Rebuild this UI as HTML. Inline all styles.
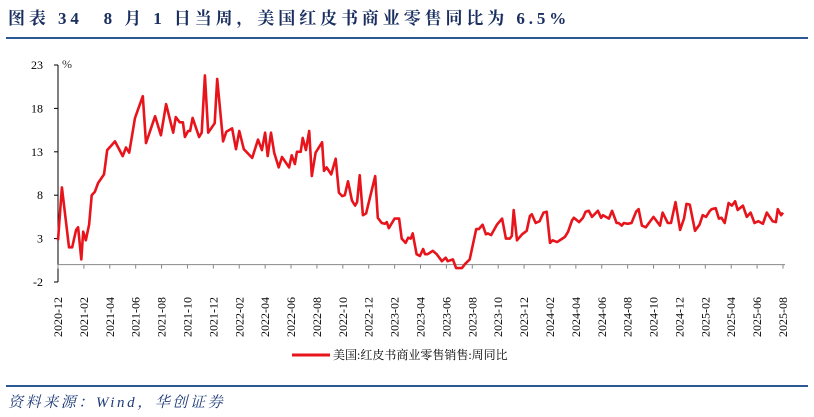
<!DOCTYPE html>
<html><head><meta charset="utf-8"><style>
body{margin:0;background:#fff;width:814px;height:417px;overflow:hidden;position:relative;font-family:"Liberation Serif","Noto Serif CJK SC",serif}
#title{position:absolute;left:8px;top:4px;font-size:17px;font-weight:bold;color:#1a2f60;letter-spacing:3.9px;white-space:nowrap}
#src{position:absolute;left:8px;top:391px;font-size:15px;font-style:italic;color:#1f3c78;letter-spacing:2.6px;white-space:nowrap}
.rule{position:absolute;left:6px;width:802px;height:2px;background:#2c5795}
</style></head><body>
<div id="title">图表 34　8 月 1 日当周，美国红皮书商业零售同比为 6.5%</div>
<div class="rule" style="top:37px"></div>
<div class="rule" style="top:385px"></div>
<div id="src">资料来源：Wind，华创证券</div>
<svg id="chart" width="814" height="417" style="position:absolute;left:0;top:0"></svg>
<script>
const months=[0,0.3,0.85,1.1,1.4,1.55,1.8,1.95,2.15,2.4,2.6,2.85,3.1,3.55,3.8,4.4,5.0,5.25,5.5,5.95,6.55,6.8,7.5,7.95,8.35,8.9,9.1,9.4,9.65,9.8,10.05,10.2,10.4,10.9,11.1,11.35,11.6,12.1,12.3,12.75,13.0,13.45,13.75,14.0,14.35,15.0,15.45,15.75,16.0,16.2,16.45,16.7,17.05,17.3,17.85,18.05,18.3,18.45,18.75,18.9,19.15,19.4,19.6,19.9,20.4,20.55,20.75,21.1,21.45,21.7,21.95,22.15,22.4,22.7,22.95,23.1,23.3,23.55,23.8,24.5,24.7,25.0,25.25,25.4,25.55,26.0,26.35,26.55,26.85,27.05,27.25,27.4,27.7,27.95,28.2,28.35,28.55,28.95,29.25,29.65,29.95,30.1,30.5,30.75,31.2,31.45,31.8,32.3,32.5,32.8,33.05,33.2,33.45,33.9,34.3,34.6,34.9,35.05,35.2,35.45,35.85,36.2,36.45,36.6,36.9,37.2,37.5,37.75,38.0,38.2,38.55,38.85,39.15,39.4,39.7,39.85,40.25,40.55,40.75,41.0,41.25,41.7,41.95,42.1,42.55,42.8,43.15,43.3,43.55,43.7,44.0,44.3,44.65,44.85,45.1,45.4,45.8,46.0,46.5,46.7,47.1,47.35,47.7,48.05,48.35,48.55,48.8,49.2,49.55,49.8,50.05,50.35,50.5,50.8,51.05,51.25,51.5,51.8,52.05,52.3,52.5,52.9,53.2,53.5,53.8,54.1,54.45,54.75,55.2,55.45,55.6,55.85,56];
const values=[2.8,8.9,2.0,2.0,4.0,4.3,0.6,3.8,2.8,4.6,8.0,8.4,9.4,10.4,13.2,14.2,12.5,13.5,12.9,16.9,19.4,14.0,17.1,14.9,18.5,15.2,17.0,16.4,16.4,14.7,15.4,15.4,16.9,14.7,15.2,21.8,15.2,16.3,21.4,14.2,15.3,15.7,13.3,15.4,13.3,12.3,14.4,13.2,15.2,12.5,15.2,12.9,11.2,12.4,11.2,12.6,11.6,13.0,13.0,14.6,13.2,15.4,10.2,12.9,14.1,10.8,11.2,10.4,12.2,8.3,7.9,8.0,9.6,7.4,6.8,7.2,10.3,5.7,5.9,10.2,5.4,4.8,4.7,4.9,4.2,5.3,5.3,3.0,2.5,3.1,3.0,3.6,1.2,1.0,1.8,1.2,1.2,1.6,1.2,0.4,0.8,0.4,0.6,-0.4,-0.4,0.1,0.6,4.1,4.1,4.6,3.5,3.6,3.4,4.6,5.3,3.0,3.0,3.3,6.3,2.8,3.5,3.9,5.6,5.8,4.8,5.0,6.0,6.1,2.5,2.8,2.6,2.9,3.2,3.8,5.1,5.4,4.9,5.4,6.1,6.2,5.5,6.2,5.4,5.7,5.3,6.2,4.8,4.8,4.5,4.8,4.7,4.8,6.1,6.4,4.5,4.3,5.1,5.5,4.5,6.0,4.8,4.8,7.2,4.0,5.3,7.0,6.9,3.9,4.6,5.7,5.5,6.2,6.4,6.5,5.3,5.4,4.8,7.1,6.8,7.3,6.3,6.8,5.5,6.0,4.8,5.0,4.7,6.0,5.0,4.9,6.4,5.7,6.0,6.5];
const yTicks=[23,18,13,8,3,-2];
const xLabels=["2020-12","2021-02","2021-04","2021-06","2021-08","2021-10","2021-12","2022-02","2022-04","2022-06","2022-08","2022-10","2022-12","2023-02","2023-04","2023-06","2023-08","2023-10","2023-12","2024-02","2024-04","2024-06","2024-08","2024-10","2024-12","2025-02","2025-04","2025-06","2025-08"];
const legendLabel="美国:红皮书商业零售销售:周同比";

const svg=document.getElementById('chart');const NS='http://www.w3.org/2000/svg';
const X0=58,X1=783,Y0=282,Y1=65;
const xs=m=>X0+(X1-X0)*m/56;
const ys=v=>Y0-(Y0-Y1)*(v+2)/25;
function mk(t,a,p){const e=document.createElementNS(NS,t);for(const k in a)e.setAttribute(k,a[k]);(p||svg).appendChild(e);return e;}
const font='"Liberation Serif","Noto Serif CJK SC",serif';
let e=mk('line',{x1:X0,y1:Y1,x2:X0,y2:Y0,stroke:'#000','stroke-width':1});


yTicks.forEach(v=>{
  const t=mk('line',{x1:X0-4,x2:X0,y1:ys(v),y2:ys(v),stroke:'#000'});
  
  
  const l=mk('text',{x:X0-15,y:ys(v)+4,'text-anchor':'end','font-size':12,'font-family':font,fill:'#000'});
  l.textContent=v;
  
  
});
const u=mk('text',{x:62,y:68,'font-size':12,'font-family':font,fill:'#333'});u.textContent='%';


e=mk('line',{x1:X0,y1:ys(0),x2:X1+2,y2:ys(0),stroke:'#888','stroke-width':1});


xLabels.forEach((s,i)=>{
  const x=xs(i*2);
  const t=mk('line',{x1:x,x2:x,y1:ys(0),y2:ys(0)+4,stroke:'#888'});
  
  
  const l=mk('text',{x:0,y:0,transform:`translate(${x+4},337) rotate(-90)`,'font-size':12,'font-family':font,fill:'#000'});
  l.textContent=s;
  
  
});
const pts=months.map((m,i)=>xs(m).toFixed(1)+','+ys(values[i]).toFixed(1)).join(' ');
const pl=mk('polyline',{points:pts,fill:'none',stroke:'#e8141c','stroke-width':2.6,'stroke-linejoin':'round'});


const lg=mk('line',{x1:292,x2:330,y1:355,y2:355,stroke:'#e8141c','stroke-width':3});


const lt=mk('text',{x:333,y:359,'font-size':12,'font-family':font,fill:'#000'});
lt.textContent=legendLabel;


</script>
</body></html>
